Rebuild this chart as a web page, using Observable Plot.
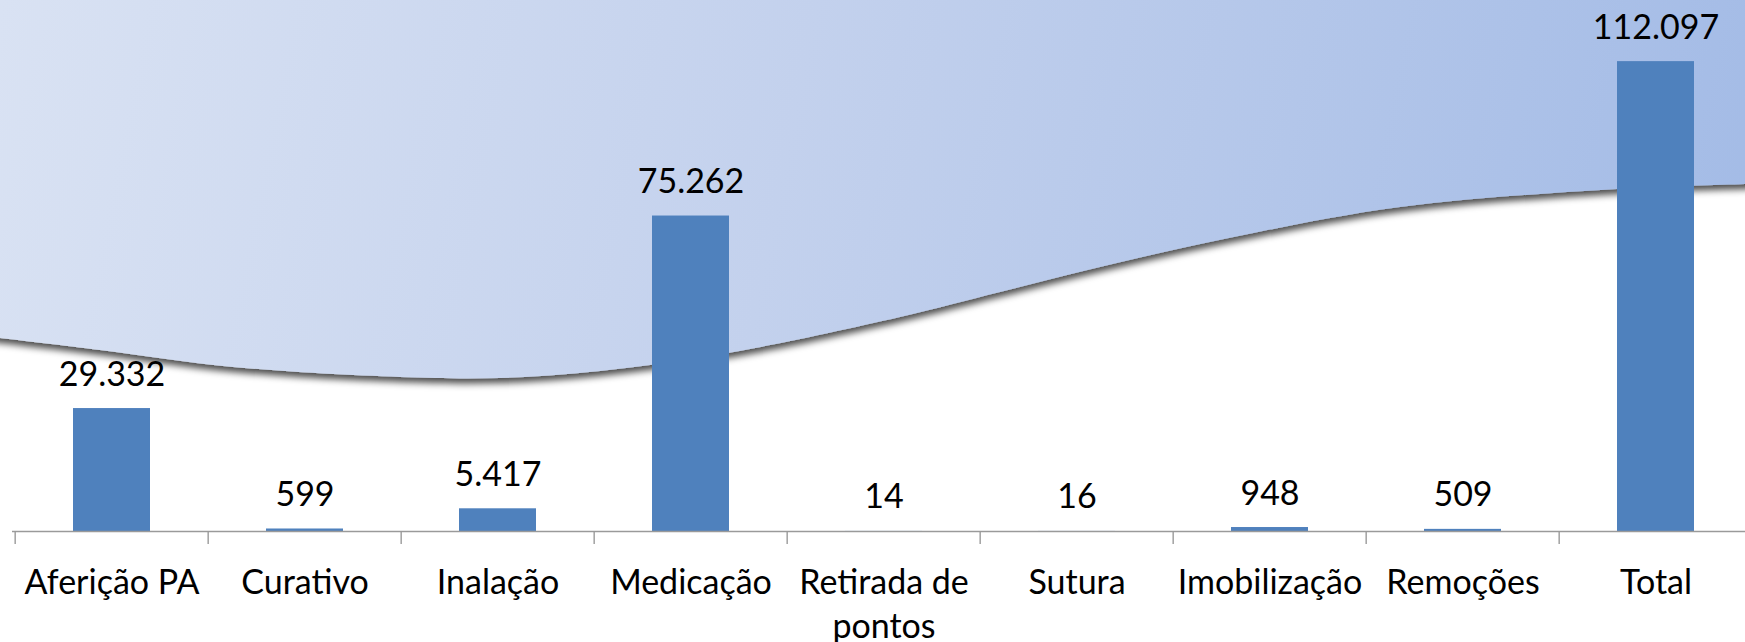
<!DOCTYPE html>
<html>
<head>
<meta charset="utf-8">
<script src="https://cdn.jsdelivr.net/npm/d3@7"></script>
<script src="https://cdn.jsdelivr.net/npm/@observablehq/plot@0.6"></script>
<style>
  html, body { margin: 0; padding: 0; background: #fff; overflow: hidden; }
  #chart { width: 1745px; height: 642px; }
</style>
</head>
<body>
<div id="chart"></div>
<script>
const categories = ["Aferição PA", "Curativo", "Inalação", "Medicação", "Retirada de pontos", "Sutura", "Imobilização", "Remoções", "Total"];
const values = [29332, 599, 5417, 75262, 14, 16, 948, 509, 112097];

const data = categories.map((c, i) => ({cat: c, value: values[i]}));
const ptBR = d3.formatLocale({decimal: ",", thousands: ".", grouping: [3], currency: ["R$", ""]});
const fmt = ptBR.format(",d");

const W = 1745, H = 642;
const axisColor = "#9a9a9a";
const step = (1755 - 12) / categories.length;

const chart = Plot.plot({
  width: W,
  height: H,
  marginTop: 28,
  marginBottom: 111,
  marginLeft: 0,
  marginRight: 0,
  style: {fontFamily: "Lato, 'Open Sans', sans-serif", background: "transparent", color: "black", overflow: "visible"},
  x: {domain: categories, range: [12, 1755], paddingInner: 0.6, paddingOuter: 0.3, axis: null},
  y: {domain: [0, 120000], axis: null},
  marks: [
    Plot.barY(data, {x: "cat", y: "value", fill: "#4f81bd"}),
    Plot.ruleY([0], {stroke: axisColor, strokeWidth: 1.4, insetLeft: 12}),
    Plot.ruleX(categories, {x: d => d, y1: 0, y2: 0, dx: -step / 2, insetBottom: -13, stroke: axisColor, strokeWidth: 1.4}),
    Plot.text(data, {x: "cat", y: "value", text: d => fmt(d.value), lineAnchor: "bottom", dy: -23, fontSize: 34, fill: "black"}),
    Plot.axisX({tickSize: 0, tickPadding: 31, fontSize: 34, lineHeight: 1.3, fill: "black", label: null,
      tickFormat: d => d.replace(" pontos", "\npontos")})
  ]
});

// decorative background swoosh
const svg = d3.select(chart);
const defs = svg.insert("defs", ":first-child");
const grad = defs.append("linearGradient").attr("id", "bgGrad")
  .attr("gradientUnits", "userSpaceOnUse")
  .attr("x1", 0).attr("y1", 0).attr("x2", W).attr("y2", 350);
grad.append("stop").attr("offset", 0).attr("stop-color", "#d9e2f3");
grad.append("stop").attr("offset", 0.45).attr("stop-color", "#c3d1ed");
grad.append("stop").attr("offset", 1).attr("stop-color", "#a3bbe6");
const filt = defs.append("filter").attr("id", "shadow")
  .attr("x", "-5%").attr("y", "-5%").attr("width", "110%").attr("height", "130%");
filt.append("feDropShadow").attr("dx", 0).attr("dy", 5).attr("stdDeviation", 3.5)
  .attr("flood-color", "#000").attr("flood-opacity", 0.7);

const curve = [[-20, 336], [0, 338], [100, 350], [233, 367], [400, 377], [500, 378], [600, 371], [728, 353], [900, 317], [1000, 292], [1100, 267], [1224, 239], [1400, 207], [1617, 189], [1745, 184], [1765, 183]];
const lineGen = d3.line().curve(d3.curveCatmullRom);
const pathD = "M-20,-20 L1765,-20 L1765,183 " + lineGen(curve.slice().reverse()).replace(/^M/, "L") + " Z";
const bg = svg.insert("g", "defs + *");
bg.append("path").attr("d", pathD).attr("fill", "url(#bgGrad)").attr("filter", "url(#shadow)");

document.getElementById("chart").appendChild(chart);
</script>
</body>
</html>
